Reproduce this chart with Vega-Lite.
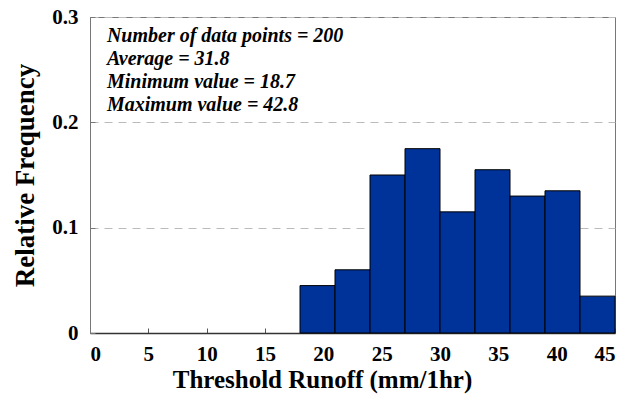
{
  "$schema": "https://vega.github.io/schema/vega-lite/v6.json",
  "width": 525,
  "height": 316,
  "autosize": "none",
  "padding": {"left": 90, "top": 17, "right": 27, "bottom": 69},
  "background": "white",
  "config": {
    "view": {"stroke": "#777", "strokeWidth": 1},
    "font": "Liberation Serif"
  },
  "datasets": {
    "bins": [
      {"start": 18, "end": 21, "freq": 0.045},
      {"start": 21, "end": 24, "freq": 0.06},
      {"start": 24, "end": 27, "freq": 0.15},
      {"start": 27, "end": 30, "freq": 0.175},
      {"start": 30, "end": 33, "freq": 0.115},
      {"start": 33, "end": 36, "freq": 0.155},
      {"start": 36, "end": 39, "freq": 0.13},
      {"start": 39, "end": 42, "freq": 0.135},
      {"start": 42, "end": 45, "freq": 0.035}
    ],
    "notes": [
      {"x": 1.45, "y": 0.2815, "label": "Number of data points = 200"},
      {"x": 1.45, "y": 0.2597, "label": "Average = 31.8"},
      {"x": 1.45, "y": 0.2379, "label": "Minimum value = 18.7"},
      {"x": 1.45, "y": 0.2161, "label": "Maximum value = 42.8"}
    ]
  },
  "layer": [
    {
      "data": {"name": "bins"},
      "mark": {"type": "bar", "fill": "#003399", "stroke": "#000", "strokeWidth": 1},
      "encoding": {
        "x": {
          "field": "start", "type": "quantitative",
          "scale": {"domain": [0, 45], "nice": false, "zero": false},
          "axis": {
            "values": [0, 5, 10, 15, 20, 25, 30, 35, 40, 45],
            "title": "Threshold Runoff (mm/1hr)",
            "titleFont": "Liberation Serif", "titleFontSize": 25, "titleFontWeight": "bold",
            "titleColor": "#000", "titlePadding": 3, "titleX": 232,
            "labelFont": "Liberation Serif", "labelFontSize": 21, "labelFontWeight": "bold",
            "labelColor": "#000", "labelPadding": 15,
            "tickSize": -5, "tickColor": "#555",
            "domainColor": "#333", "domainWidth": 1.5,
            "grid": false
          }
        },
        "x2": {"field": "end"},
        "y": {
          "field": "freq", "type": "quantitative",
          "scale": {"domain": [0, 0.3], "nice": false},
          "axis": {
            "values": [0, 0.1, 0.2, 0.3],
            "labelExpr": "datum.value == 0 ? '0' : format(datum.value, '.1f')",
            "title": "Relative Frequency",
            "titleFont": "Liberation Serif", "titleFontSize": 27, "titleFontWeight": "bold",
            "titleColor": "#000", "titlePadding": 12,
            "labelFont": "Liberation Serif", "labelFontSize": 21, "labelFontWeight": "bold",
            "labelColor": "#000", "labelPadding": 17,
            "tickSize": -5, "tickColor": "#777",
            "domainColor": "#777",
            "grid": true, "gridColor": "#bbb", "gridDash": [8, 6], "gridWidth": 1
          }
        },
        "y2": {"datum": 0}
      }
    },
    {
      "data": {"name": "notes"},
      "mark": {"type": "text", "align": "left", "baseline": "middle", "font": "Liberation Serif", "fontSize": 20, "fontWeight": "bold", "fontStyle": "italic", "color": "#000"},
      "encoding": {
        "x": {"field": "x", "type": "quantitative"},
        "y": {"field": "y", "type": "quantitative"},
        "text": {"field": "label"}
      }
    }
  ]
}
